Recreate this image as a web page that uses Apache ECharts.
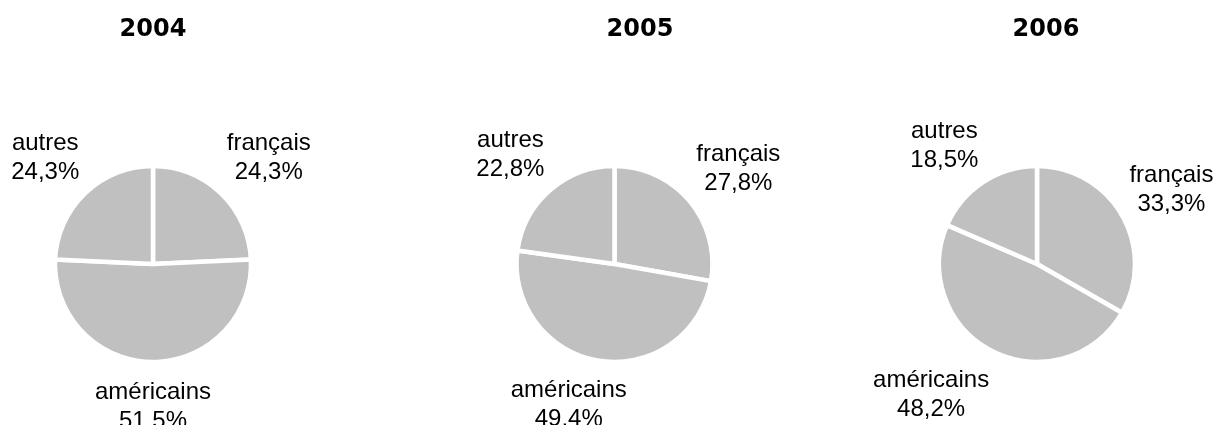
<!DOCTYPE html>
<html>
<head>
<meta charset="utf-8">
<script src="https://cdn.jsdelivr.net/npm/echarts@6/dist/echarts.min.js"></script>
<style>
html,body{margin:0;padding:0;background:#fff;}
#chart{width:1218px;height:425px;}
</style>
</head>
<body>
<div id="chart"></div>
<script>
// ---- data ----
const years = ['2004', '2005', '2006'];
const categories = ['français', 'américains', 'autres'];
const values2004 = [24.3, 51.5, 24.3];
const values2005 = [27.8, 49.4, 22.8];
const values2006 = [33.3, 48.2, 18.5];
const allValues = [values2004, values2005, values2006];

// ---- layout ----
const centers = [[153, 264], [614.5, 264], [1037, 264]];
const titleX = [153, 640, 1046];
const R = 98;          // outer radius incl. border
const BORDER = 4.5;
const RVIS = R - BORDER / 2;
const GAP = 11;

function clamp(v) { return Math.max(-1, Math.min(1, v)); }

function fmt(v) { return v.toFixed(1).replace('.', ',') + '%'; }

const chart = echarts.init(document.getElementById('chart'), null, {renderer: 'canvas'});

const series = years.map((y, si) => ({
  type: 'pie',
  center: centers[si],
  radius: R,
  startAngle: 90,
  clockwise: true,
  avoidLabelOverlap: false,
  silent: true,
  animation: false,
  itemStyle: {color: '#c0c0c0', borderColor: '#ffffff', borderWidth: BORDER},
  label: {
    show: true,
    position: 'outside',
    fontFamily: '"Liberation Sans", Arial, sans-serif',
    fontSize: 24,
    lineHeight: 29,
    color: '#000',
    formatter: p => p.name + '\n' + fmt(p.value)
  },
  labelLine: {show: false},
  labelLayout: function (params) {
    const vals = allValues[params.seriesIndex];
    const total = vals.reduce((a, b) => a + b, 0);
    let cum = 0;
    for (let i = 0; i < params.dataIndex; i++) cum += vals[i];
    const mid = (cum + vals[params.dataIndex] / 2) / total * Math.PI * 2;
    const sx = Math.sin(mid), sy = -Math.cos(mid);
    const c = centers[params.seriesIndex];
    const px = c[0] + sx * (RVIS + GAP);
    const py = c[1] + sy * (RVIS + GAP) + (sy > 0 ? 7 * sy : 0);
    const w = params.labelRect.width, h = params.labelRect.height;
    return {
      x: px + clamp(sx * 3.2) * w / 2,
      y: py + clamp(sy * 1.4) * h / 2,
      align: 'center',
      verticalAlign: 'middle'
    };
  },
  data: categories.map((name, i) => ({name: name, value: allValues[si][i]}))
}));

const option = {
  backgroundColor: '#fff',
  animation: false,
  graphic: years.map((y, i) => ({
    type: 'text',
    x: titleX[i],
    y: 30,
    style: {
      text: y,
      fill: '#000',
      font: 'bold 24px "DejaVu Sans", Verdana, sans-serif',
      textAlign: 'center',
      textVerticalAlign: 'middle'
    }
  })),
  series: series
};
chart.setOption(option);
</script>
</body>
</html>
